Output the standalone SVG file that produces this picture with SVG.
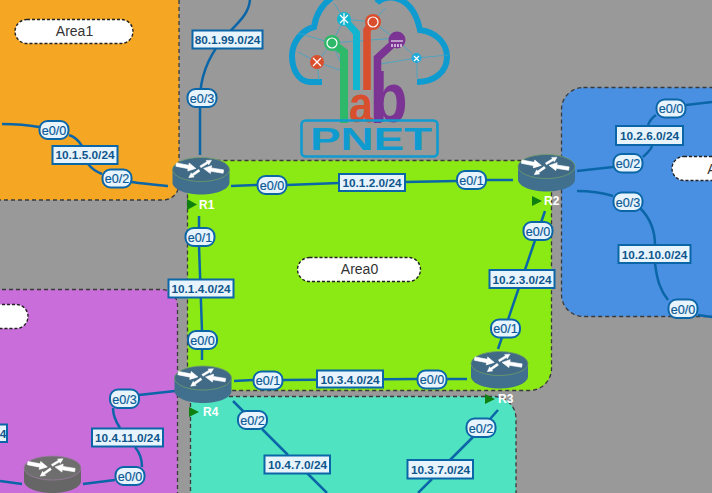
<svg xmlns="http://www.w3.org/2000/svg" width="712" height="493" viewBox="0 0 712 493">
<style>
text{font-family:"Liberation Sans",Arial,sans-serif}
.area{stroke:#3a3a3a;stroke-width:1.3;stroke-dasharray:4 3}
.lk{fill:none;stroke:#0b66a8;stroke-width:2.5}
.if rect{fill:#e8f4fd;stroke:#0b66a8;stroke-width:2}
.if text{font-size:12.6px;fill:#0b5a96;stroke:#0b5a96;stroke-width:.2;text-anchor:middle}
.net rect{fill:#e8f4fd;stroke:#0b66a8;stroke-width:2}
.net text{font-size:11.8px;font-weight:bold;fill:#0f568c;text-anchor:middle}
.tag rect{fill:#fff;stroke:#222;stroke-width:1.4;stroke-dasharray:3 2}
.tag text{font-size:14px;fill:#333;text-anchor:middle}
.name{font-size:12px;font-weight:bold;fill:#fff}
.flag{fill:#0f7f0f}
.lg{fill:none}
.ln{fill:none;stroke:#3ea6c8;stroke-width:.8}
.ic{fill:none;stroke:#fff;stroke-width:1.2}
</style>
<defs>
<path id="ar" d="M-10-1.700L2.500-1.700V-4L10 0 2.500 4V1.700L-10 1.700z" fill="#fff" stroke="#fff" stroke-width=".6"/>
<g id="arrows">
<use href="#ar" transform="translate(-15 -3) rotate(11)"/>
<use href="#ar" transform="translate(12.500 .5) rotate(189)"/>
<use href="#ar" transform="translate(-7 4.500) rotate(145) scale(.65)"/>
<use href="#ar" transform="translate(5 -6) rotate(-31) scale(.65)"/>
</g>
<g id="rt">
<path d="M-28.500-6.500V6.500C-28.500 13 -16 18.500 0 18.500S28.500 13 28.500 6.500V-6.500z" fill="#41708f"/>
<ellipse cx="0" cy="-6.500" rx="28.500" ry="12" fill="#406a85" stroke="#6f9d6a" stroke-width=".8"/>
<use href="#arrows" y="-6.500"/>
</g>
<g id="rtg">
<path d="M-28.500-6.500V6.500C-28.500 13 -16 18.500 0 18.500S28.500 13 28.500 6.500V-6.500z" fill="#666"/>
<ellipse cx="0" cy="-6.500" rx="28.500" ry="12" fill="#6e6e6e" stroke="#9a7aa0" stroke-width=".8"/>
<use href="#arrows" y="-6.500"/>
</g>
</defs>
<rect width="712" height="493" fill="#999"/>

<g id="areas">
<path id="area1" class="area" d="M-5-5H179V184a16 16 0 0 1-16 16H-5z" fill="#f5a623"/>
<rect id="area2" class="area" x="561.500" y="87.500" width="175" height="229" rx="22" fill="#4a90e2"/>
<path id="area4" class="area" d="M-5 289.500H161a16 16 0 0 1 16.500 16V498H-5z" fill="#c86dd9"/>
<path id="area3" class="area" d="M190.500 498V396.500H494a22 22 0 0 1 22 22V498z" fill="#50e3c2"/>
<rect id="area0" class="area" x="187.500" y="160.500" width="364" height="230" rx="22" fill="#8bea14"/>
</g>

<g id="logo">
<path class="lg" d="M322 82H310C298 82 292 68 292 56 292 42 302 30 314 27 316 12 325 2 334-4M377 3C384-6 412-8 420 30 436 32 447 43 447 57 447 72 434 82 417 82" stroke="#0e9bd0" stroke-width="6"/>
<path class="ln" d="M332 43L344 19 334 3M344 19L373 22 385 8M373 22L397 40M332 43L397 38M332 43L317 62 298 52M317 62L319 80M317 62L345 72M332 43L298 33M332 43L345 72M397 40L417 58 448 55M417 58L417 78M417 58L380 64"/>
<path class="lg" d="M344 19L356.500 33V90" stroke="#11b5d0" stroke-width="7"/>
<path class="lg" d="M373 22L367 30V90" stroke="#d94f2e" stroke-width="7.500"/>
<path class="lg" d="M332 43L344 52V123" stroke="#2eb86a" stroke-width="8"/>
<path class="lg" d="M397 40L377.500 58V123" stroke="#7b3494" stroke-width="7.500"/>
<circle cx="344" cy="19" r="7" fill="#11b5d0"/><circle cx="373" cy="22" r="8" fill="#d94f2e"/><circle cx="332" cy="43" r="8" fill="#2eb86a"/><circle cx="397" cy="40" r="8.500" fill="#7b3494"/><circle cx="317" cy="62" r="7" fill="#d94f2e"/><circle cx="416.500" cy="58" r="5" fill="#22a9dc"/>
<circle class="ic" cx="332" cy="43" r="5"/><circle class="ic" cx="373" cy="22" r="5"/>
<path class="ic" d="M340 15l8 8M348 15l-8 8M344 13v12M313 58l8 8M321 58l-8 8M414 56l5 5M419 56l-5 5M391 41h12M392 44v3M395 44v3M398 44v3M401 44v3"/>
<text x="349" y="122" font-size="52" font-weight="bold" fill="#d94f2e" textLength="24" lengthAdjust="spacingAndGlyphs">a</text>
<text x="371.500" y="122" font-size="70" font-weight="bold" fill="#7b3494" textLength="36" lengthAdjust="spacingAndGlyphs">b</text>
<rect x="301.500" y="120.500" width="136" height="36" rx="4" fill="none" stroke="#0e9bd0" stroke-width="2.600"/>
<text x="310" y="150" font-size="31" font-weight="bold" fill="#0e9bd0" textLength="122" lengthAdjust="spacingAndGlyphs">PNET</text>
</g>

<g id="connectors">
<path class="lk" d="M2 124C15 124 28 125 39 127M69 135C75 137 79 141 82 146M88 164C92 169 97 172 102 174M132 182C145 184 157 185 168 186"/>
<path class="lk" d="M250-2C250 15 235 25 222 40 210 55 200 75 200 100V155"/>
<path class="lk" d="M231 186L257 185M287 185L339 183M405 182L457 181M486 180L513 180"/>
<path class="lk" d="M199 216V228M199 246L202 331M202 349V360"/>
<path class="lk" d="M234 381L253 380M283 380L417 379M447 379H467"/>
<path class="lk" d="M545 211L498 349"/>
<path class="lk" d="M577 171L613 167M643 157C647 153 651 150 652 146M648 125C650 120 653 117 656 115M686 105L712 102"/>
<path class="lk" d="M577 191C590 191 603 193 613 196M640 208C650 218 655 232 655 245V263C657 280 660 290 668 300M698 315L712 317"/>
<path class="lk" d="M139 395L175 391M113 408C113 415 116 422 120 428M135 447C140 453 142 460 142 467M115 480L83 484M0 481L22 484"/>
<path class="lk" d="M233 401L244 412M262 429L288 455M307 473L327 493"/>
<path class="lk" d="M498 410L490 419M473 437L450 460M432 479L418 493"/>
</g>

<g id="R1"><use href="#rt" x="201" y="176"/><path class="flag" d="M187 199l10 5.500-10 5.500z"/><text class="name" x="199" y="209">R1</text></g>
<g id="R2"><use href="#rt" x="546.500" y="173"/><path class="flag" d="M532 196l10 5-10 5z"/><text class="name" x="544" y="205">R2</text></g>
<g id="R3"><use href="#rt" x="499.500" y="370"/><path class="flag" d="M485 394l10 5-10 5z"/><text class="name" x="498" y="403">R3</text></g>
<g id="R4"><use href="#rt" x="203" y="384.500"/><path class="flag" d="M189 407l10 5-10 5z"/><text class="name" x="203" y="416">R4</text></g>
<g id="R11"><use href="#rtg" x="52.500" y="474.500"/></g>

<g id="labels">
<g class="tag"><rect x="15" y="19.500" width="118" height="24" rx="12"/><text x="74.500" y="36">Area1</text></g>
<g class="tag"><rect x="297.500" y="257.500" width="123" height="24" rx="12"/><text x="359.500" y="274">Area0</text></g>
<g class="tag"><rect x="672" y="156.500" width="60" height="24" rx="12"/><text x="712" y="174">A</text></g>
<g class="tag"><rect x="-30" y="304.500" width="58" height="24" rx="12"/></g>

<g class="net"><rect x="192.500" y="30.500" width="70" height="18"/><text x="227.500" y="44">80.1.99.0/24</text></g>
<g class="net"><rect x="52.500" y="146" width="65" height="18"/><text x="85" y="159">10.1.5.0/24</text></g>
<g class="net"><rect x="339" y="174" width="66" height="17"/><text x="372" y="187">10.1.2.0/24</text></g>
<g class="net"><rect x="616" y="126" width="67" height="19"/><text x="649.500" y="140">10.2.6.0/24</text></g>
<g class="net"><rect x="618.500" y="245" width="72" height="18"/><text x="654.500" y="258.500">10.2.10.0/24</text></g>
<g class="net"><rect x="489.500" y="270" width="65" height="18"/><text x="522" y="283.500">10.2.3.0/24</text></g>
<g class="net"><rect x="168.500" y="279.500" width="65" height="18"/><text x="201" y="293">10.1.4.0/24</text></g>
<g class="net"><rect x="317" y="370.500" width="66" height="17"/><text x="350" y="383.500">10.3.4.0/24</text></g>
<g class="net"><rect x="92" y="428.500" width="71" height="18"/><text x="127.500" y="442">10.4.11.0/24</text></g>
<g class="net"><rect x="264.500" y="455.500" width="65.500" height="18"/><text x="297.500" y="469">10.4.7.0/24</text></g>
<g class="net"><rect x="407.500" y="460" width="65.500" height="18.500"/><text x="440.500" y="474">10.3.7.0/24</text></g>
<g class="net"><rect x="-40" y="424.500" width="47" height="17.500"/><text x="3" y="438">4</text></g>

<g class="if"><rect x="187.500" y="89" width="29" height="18" rx="8"/><text x="202" y="102.500">e0/3</text></g>
<g class="if"><rect x="39.500" y="121" width="29" height="18" rx="8"/><text x="54" y="134.500">e0/0</text></g>
<g class="if"><rect x="102.500" y="169.500" width="29" height="18" rx="8"/><text x="117" y="183">e0/2</text></g>
<g class="if"><rect x="257.500" y="176" width="29" height="18" rx="8"/><text x="272" y="189.500">e0/0</text></g>
<g class="if"><rect x="457" y="171" width="29" height="18" rx="8"/><text x="471.500" y="184.500">e0/1</text></g>
<g class="if"><rect x="185.500" y="228" width="29" height="18" rx="8"/><text x="200" y="241.500">e0/1</text></g>
<g class="if"><rect x="188" y="331" width="29" height="18" rx="8"/><text x="202.500" y="344.500">e0/0</text></g>
<g class="if"><rect x="253.500" y="371.500" width="29" height="18" rx="8"/><text x="268" y="385">e0/1</text></g>
<g class="if"><rect x="417.500" y="370.500" width="29" height="18" rx="8"/><text x="432" y="384">e0/0</text></g>
<g class="if"><rect x="491" y="319.500" width="29" height="18" rx="8"/><text x="505.500" y="333">e0/1</text></g>
<g class="if"><rect x="523.500" y="222" width="29" height="18" rx="8"/><text x="538" y="235.500">e0/0</text></g>
<g class="if"><rect x="656.500" y="99.500" width="29" height="18" rx="8"/><text x="671" y="113">e0/0</text></g>
<g class="if"><rect x="613.500" y="154" width="29" height="18.500" rx="8"/><text x="628" y="168">e0/2</text></g>
<g class="if"><rect x="613.500" y="192.500" width="29" height="18.500" rx="8"/><text x="628" y="206.500">e0/3</text></g>
<g class="if"><rect x="668.500" y="299.500" width="29" height="18.500" rx="8"/><text x="683" y="313.500">e0/0</text></g>
<g class="if"><rect x="110" y="389.500" width="29" height="18.500" rx="8"/><text x="124.500" y="403.500">e0/3</text></g>
<g class="if"><rect x="115.500" y="467" width="29" height="18" rx="8"/><text x="130" y="480.500">e0/0</text></g>
<g class="if"><rect x="238" y="411" width="29" height="18" rx="8"/><text x="252.500" y="424.500">e0/2</text></g>
<g class="if"><rect x="466.500" y="418.500" width="29" height="18.500" rx="8"/><text x="481" y="432.500">e0/2</text></g>
</g>
</svg>
